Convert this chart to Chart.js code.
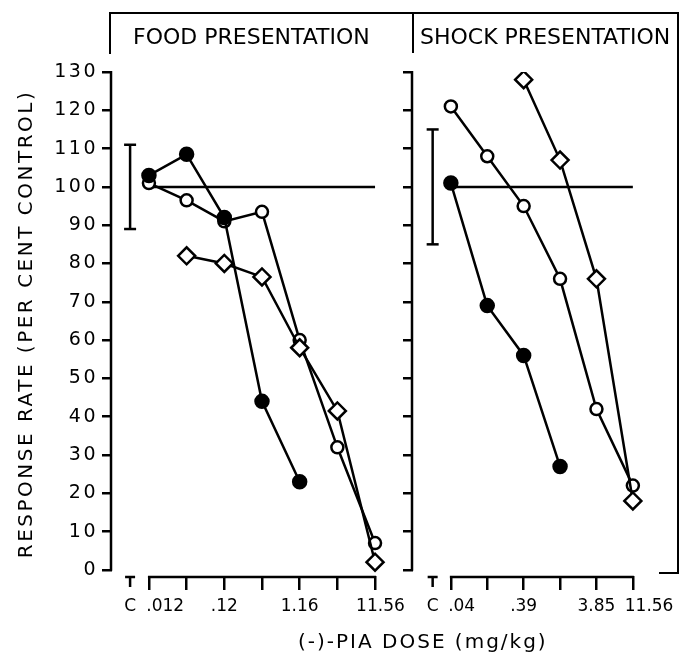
<!DOCTYPE html>
<html>
<head>
<meta charset="utf-8">
<script src="https://cdn.jsdelivr.net/npm/chart.js@4.4.1/dist/chart.umd.min.js"></script>
<style>
  html, body { margin: 0; padding: 0; background: #fff; }
  #page { position: relative; width: 681px; height: 654px; overflow: hidden; font-family: 'DejaVu Sans', sans-serif; color: #000; }
  canvas { position: absolute; top: 0; }
  #foodChart { left: 0; }
  #shockChart { left: 381px; }
  .rule { position: absolute; background: #000; }
  .panel-title { position: absolute; top: 26px; font-size: 22px; line-height: 22px; white-space: nowrap; }
  #xTitle { position: absolute; left: 298px; top: 631px; font-size: 20px; line-height: 20px; letter-spacing: 2px; white-space: nowrap; }
</style>
</head>
<body>
<div id="page">
  <canvas id="foodChart" width="420" height="654"></canvas>
  <canvas id="shockChart" width="300" height="654"></canvas>

  <!-- frame round the two panels -->
  <div class="rule" style="left:109px;top:12px;width:570px;height:2px"></div>
  <div class="rule" style="left:109px;top:12px;width:2px;height:42px"></div>
  <div class="rule" style="left:412px;top:12px;width:2px;height:41px"></div>
  <div class="rule" style="left:677px;top:12px;width:2px;height:562px"></div>
  <div class="rule" style="left:659px;top:572px;width:20px;height:2px"></div>

  <div class="panel-title" style="left:133px">FOOD PRESENTATION</div>
  <div class="panel-title" style="left:420px">SHOCK PRESENTATION</div>
  <div id="xTitle">(-)-PIA DOSE (mg/kg)</div>
</div>

<script>
// control condition sits half a step left of the first dose
const controlPos = -0.5;
const controlLabel = 'C';
const controlLevel = 100;
const yTicks = [0, 10, 20, 30, 40, 50, 60, 70, 80, 90, 100, 110, 120, 130];

// food presentation (dose steps are half log units)
const foodDoseLabels = ['.012', '', '.12', '', '1.16', '', '11.56'];
const foodFilled = [103, 108.5, 92, 44, 23];
const foodOpen = [101, 96.5, 91, 93.5, 60, 32, 7];
const foodDiamond = [null, 82, 80, 76.5, 58, 41.5, 2];
const foodControl = [89, 111];

// shock presentation
const shockDoseLabels = ['.04', '', '.39', '', '3.85', '11.56'];
const shockFilled = [101, 69, 56, 27];
const shockOpen = [121, 108, 95, 76, 42, 22];
const shockDiamond = [null, null, 128, 107, 76, 18];
const shockControl = [85, 115];

const FIG_SPACE = '\u2007';

Chart.defaults.font.family = "'DejaVu Sans', sans-serif";
Chart.defaults.color = '#000';

function points(values) {
  return values.map((v, i) => ({ x: i, y: v })).filter(p => p.y !== null);
}

function buildDatasets(filled, open, diamond, control, lastPos) {
  const sets = [
    { data: points(filled), pointStyle: 'circle', pointRadius: 6.5, pointBackgroundColor: '#000' },
    { data: points(diamond), pointStyle: 'rectRot', pointRadius: 8.5, pointBackgroundColor: '#fff' },
    { data: points(open), pointStyle: 'circle', pointRadius: 6, pointBackgroundColor: '#fff' },
    { data: [{ x: 0, y: controlLevel }, { x: lastPos, y: controlLevel }], pointRadius: 0 },
    { data: control.map(v => ({ x: controlPos, y: v })), pointStyle: 'line', pointRadius: 6 }
  ];
  return sets.map(ds => Object.assign({
    showLine: true,
    borderColor: '#000',
    borderWidth: 2.5,
    pointBorderColor: '#000',
    pointBorderWidth: 2.5
  }, ds));
}

// axis lines only span the dose range, plus the little T for the control
const axesPlugin = {
  id: 'axes',
  beforeDraw(chart) {
    chart.ctx.letterSpacing = '2.5px';
  },
  beforeDatasetsDraw(chart, args, opts) {
    const { ctx, chartArea, scales: { x, y } } = chart;
    ctx.letterSpacing = '0px';
    ctx.save();
    ctx.strokeStyle = '#000';
    ctx.lineWidth = 2.5;
    ctx.beginPath();
    const ax = chartArea.left - 1;
    ctx.moveTo(ax, y.getPixelForValue(130) - 1);
    ctx.lineTo(ax, y.getPixelForValue(0) + 1);
    const by = chartArea.bottom + 1;
    ctx.moveTo(x.getPixelForValue(0) - 1, by);
    ctx.lineTo(x.getPixelForValue(opts.lastPos) + 1, by);
    const cx = x.getPixelForValue(controlPos);
    ctx.moveTo(cx - 5, by);
    ctx.lineTo(cx + 5, by);
    ctx.moveTo(cx, by);
    ctx.lineTo(cx, by + 10);
    ctx.stroke();
    ctx.restore();
  }
};

function makeChart(id, cfg) {
  const lastPos = cfg.labels.length - 1;
  return new Chart(document.getElementById(id), {
    type: 'scatter',
    data: { datasets: buildDatasets(cfg.filled, cfg.open, cfg.diamond, cfg.control, lastPos) },
    options: {
      responsive: false,
      animation: false,
      devicePixelRatio: 1,
      events: [],
      layout: { padding: cfg.padding },
      plugins: {
        legend: { display: false },
        tooltip: { enabled: false },
        axes: { lastPos: lastPos }
      },
      scales: {
        x: {
          type: 'linear',
          min: cfg.xRange[0],
          max: cfg.xRange[1],
          afterBuildTicks: s => {
            s.ticks = [controlPos].concat(cfg.labels.map((l, i) => i)).map(v => ({ value: v }));
          },
          afterFit: s => { s.height = 78; },
          border: { display: false },
          grid: {
            drawOnChartArea: false,
            tickLength: 14,
            lineWidth: 2.5,
            tickColor: c => (c.tick && c.tick.value === controlPos) ? 'rgba(0,0,0,0)' : '#000'
          },
          ticks: {
            autoSkip: false,
            maxRotation: 0,
            minRotation: 0,
            padding: 6,
            z: 1,
            font: { size: 17 },
            callback: v => v === controlPos ? controlLabel : FIG_SPACE.repeat(cfg.shift[v] || 0) + cfg.labels[v]
          }
        },
        y: {
          type: 'linear',
          min: -1.6,
          max: 130,
          afterBuildTicks: s => { s.ticks = yTicks.map(v => ({ value: v })); },
          afterFit: s => { s.width = cfg.yWidth; },
          border: { display: false },
          grid: { drawOnChartArea: false, tickLength: 10, lineWidth: 2.5, color: '#000' },
          ticks: { display: cfg.yLabels, padding: 4, font: { size: 19 } },
          title: {
            display: !!cfg.yTitle,
            text: cfg.yTitle || '',
            font: { size: 20 },
            padding: { top: 15, bottom: 0 }
          }
        }
      }
    },
    plugins: [axesPlugin]
  });
}

makeChart('foodChart', {
  labels: foodDoseLabels,
  filled: foodFilled,
  open: foodOpen,
  diamond: foodDiamond,
  control: foodControl,
  xRange: [-0.98, 6.45],
  shift: { 0: 3, 6: 1 },
  padding: { top: 72, left: 0, right: 28, bottom: 0 },
  yWidth: 112,
  yLabels: true,
  yTitle: 'RESPONSE RATE (PER CENT CONTROL)'
});

makeChart('shockChart', {
  labels: shockDoseLabels,
  filled: shockFilled,
  open: shockOpen,
  diamond: shockDiamond,
  control: shockControl,
  xRange: [-1.04, 6.02],
  shift: { 0: 2, 5: 3 },
  padding: { top: 72, left: 0, right: 4, bottom: 0 },
  yWidth: 32,
  yLabels: false
});
</script>
</body>
</html>
